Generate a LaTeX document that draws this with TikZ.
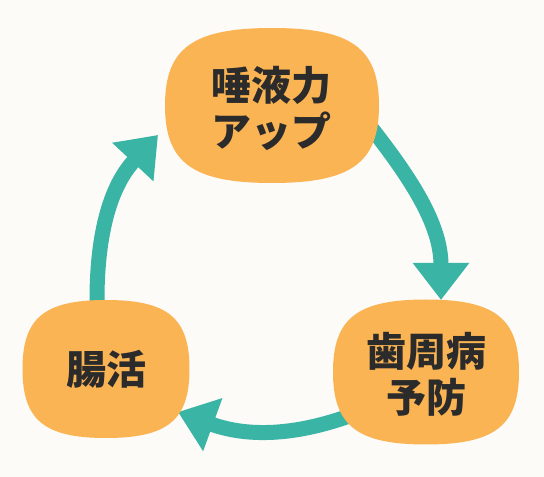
\documentclass[tikz,border=0pt]{standalone}
\usepackage{fontspec}
\newfontfamily\jpfont{Noto Sans CJK JP}
\usetikzlibrary{arrows.meta}
\definecolor{bgc}{HTML}{FCFBF7}
\definecolor{blobc}{HTML}{FBB453}
\definecolor{tealc}{HTML}{3AB4A5}
\definecolor{txtc}{HTML}{2B2B2B}
% squircle-like blob: centre x, centre y, half width, half height
\newcommand\blobpath[4]{%
  \fill[blobc] (#1+#3,#2)
    .. controls (#1+#3,#2+0.74*#4) and (#1+0.74*#3,#2+#4) .. (#1,#2+#4)
    .. controls (#1-0.74*#3,#2+#4) and (#1-#3,#2+0.74*#4) .. (#1-#3,#2)
    .. controls (#1-#3,#2-0.74*#4) and (#1-0.74*#3,#2-#4) .. (#1,#2-#4)
    .. controls (#1+0.74*#3,#2-#4) and (#1+#3,#2-0.74*#4) .. (#1+#3,#2) -- cycle;}
\tikzset{
  cyc/.style={draw=tealc, line width=15pt, -{Triangle[length=37pt,width=54pt]}},
  lbl/.style={font=\jpfont\bfseries\fontsize{40}{46}\selectfont, text=txtc, align=center, inner sep=0pt}
}
\begin{document}
\begin{tikzpicture}[x=1pt,y=1pt]
\fill[bgc] (0,0) rectangle (544,477);
\useasboundingbox (0,0) rectangle (544,477);
% connector coordinates
\coordinate (a1s) at (365,356); \coordinate (a1b) at (373,347); \coordinate (a1e) at (441,177);
\coordinate (a2s) at (363,66);  \coordinate (a2b) at (352,62);  \coordinate (a2e) at (178,65);
\coordinate (a3s) at (97,165);  \coordinate (a3b) at (97,177);  \coordinate (a3e) at (158,342);
\draw[cyc] (a1s) -- (a1b) to[out=-52,in=90] (a1e);
\draw[cyc] (a2s) -- (a2b) to[out=200,in=-20] (a2e);
\draw[cyc] (a3s) -- (a3b) to[out=90,in=-133] (a3e);
% blobs
\blobpath{272}{371.5}{107}{77.5}
\blobpath{426}{105}{93}{72.5}
\blobpath{106}{108}{83.5}{69}
% labels
\node[lbl] (saliva) at (271,369) {唾液力\\アップ};
\node[lbl] (perio) at (426,103) {歯周病\\予防};
\node[lbl] (gut) at (106,108) {腸活};
\end{tikzpicture}
\end{document}
